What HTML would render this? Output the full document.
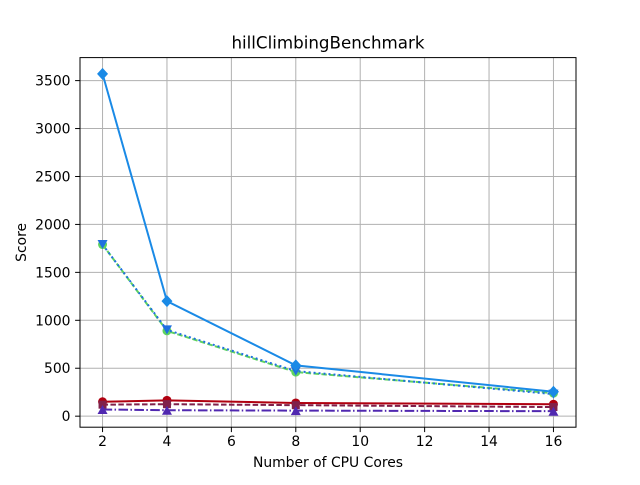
<!DOCTYPE html>
<html><head><meta charset="utf-8"><style>
body{margin:0;background:#fff}
svg text{font-family:"DejaVu Sans","Liberation Sans",sans-serif;fill:#000}
</style></head><body>
<svg id="c" width="640" height="480" xmlns="http://www.w3.org/2000/svg"></svg>
<script>
const cores=[2,4,8,16];
const xTicks=[2,4,6,8,10,12,14,16];
const yTicks=[0,500,1000,1500,2000,2500,3000,3500];
const s1=[3570,1200,530,255];
const s2=[1790,890,460,240];
const s3=[1790,900,470,230];
const s4=[150,165,138,125];
const s5=[120,125,115,95];
const s6=[70,62,58,52];
const L=80,R=576,T=57.6,B=427.2,x0=1.3,x1=16.7,y0=-115,y1=3740;
const X=v=>L+(v-x0)/(x1-x0)*(R-L), Y=v=>B-(v-y0)/(y1-y0)*(B-T);
const svg=document.getElementById('c');const NS='http://www.w3.org/2000/svg';
function mk(t,a,p){const e=document.createElementNS(NS,t);for(const k in a)e.setAttribute(k,a[k]);(p||svg).appendChild(e);return e;}
let bg=mk('rect',{x:L,y:T,width:R-L,height:B-T,fill:'#fff'});


xTicks.forEach(v=>{const x=X(v);
let g=mk('line',{x1:x,x2:x,y1:T,y2:B,stroke:'#b0b0b0','stroke-width':1});


mk('line',{x1:x,x2:x,y1:B,y2:B+4.9,stroke:'#000','stroke-width':1});
let t=mk('text',{x:x,y:B+19,'font-size':13.9,'text-anchor':'middle'});t.textContent=v;

});
yTicks.forEach(v=>{const y=Y(v);
let g=mk('line',{x1:L,x2:R,y1:y,y2:y,stroke:'#b0b0b0','stroke-width':1});


mk('line',{x1:L-4.9,x2:L,y1:y,y2:y,stroke:'#000','stroke-width':1});
let t=mk('text',{x:L-9.5,y:y+5,'font-size':13.9,'text-anchor':'end'});t.textContent=v;

});
function marker(m,x,y,c,g){
 if(m==='o')mk('circle',{cx:x,cy:y,r:4.5,fill:c},g);
 else if(m==='D')mk('polygon',{points:`${x},${y-6} ${x+5.5},${y} ${x},${y+6} ${x-5.5},${y}`,fill:c},g);
 else if(m==='v')mk('polygon',{points:`${x-5},${y-4.5} ${x+5},${y-4.5} ${x},${y+4.5}`,fill:c},g);
 else if(m==='^')mk('polygon',{points:`${x-5},${y+4.5} ${x+5},${y+4.5} ${x},${y-4.5}`,fill:c},g);
 else if(m==='s')mk('rect',{x:x-4,y:y-4,width:8,height:8,fill:c},g);
}
function series(name,d,c,dash,m){
 const g=mk('g',{});
 
 
 mk('polyline',{points:d.map((v,i)=>X(cores[i])+','+Y(v)).join(' '),fill:'none',stroke:c,'stroke-width':2,'stroke-dasharray':dash},g);
 d.forEach((v,i)=>marker(m,X(cores[i]),Y(v),c,g));
}
series('series-green-dashed',s2,'#5fd35f','5.5,2.4','o');
series('series-blue-dotted',s3,'#1f6fe0','2,3','v');
series('series-blue-solid',s1,'#1a8ae6','','D');
series('series-red-solid',s4,'#b00010','','o');
series('series-maroon-dashed',s5,'#80204a','5.5,2.4','s');
series('series-purple-dashdot',s6,'#5028b0','9.6,2.4,1.5,2.4','^');
let f=mk('rect',{x:L,y:T,width:R-L,height:B-T,fill:'none',stroke:'#000','stroke-width':1});


let ti=mk('text',{x:(L+R)/2,y:T-9,'font-size':16.7,'text-anchor':'middle'});ti.textContent='hillClimbingBenchmark';


let xl=mk('text',{x:(L+R)/2,y:467,'font-size':13.9,'text-anchor':'middle'});xl.textContent='Number of CPU Cores';


let yl=mk('text',{x:26,y:(T+B)/2,'font-size':13.9,'text-anchor':'middle',transform:`rotate(-90 26 ${(T+B)/2})`});yl.textContent='Score';


</script>
</body></html>
